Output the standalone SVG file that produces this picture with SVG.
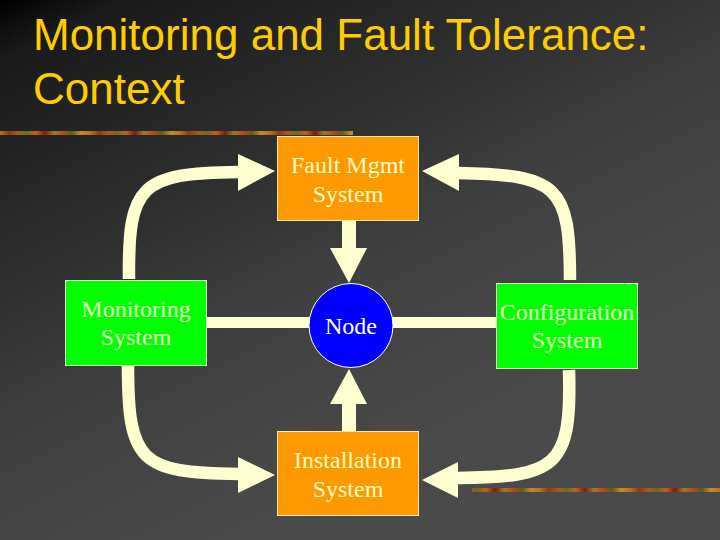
<svg xmlns="http://www.w3.org/2000/svg" width="720" height="540" viewBox="0 0 720 540">
<defs>
<linearGradient id="bg" gradientUnits="userSpaceOnUse" x1="0" y1="0" x2="300" y2="600">
<stop offset="0" stop-color="#000000"/>
<stop offset="0.08" stop-color="#1a1a1a"/>
<stop offset="0.4" stop-color="#303030"/>
<stop offset="0.6" stop-color="#404040"/>
<stop offset="0.9" stop-color="#4a4a4a"/>
</linearGradient>
<linearGradient id="stripe" gradientUnits="userSpaceOnUse" x1="0" y1="0" x2="90" y2="0" spreadMethod="repeat">
<stop offset="0" stop-color="#b8741c"/>
<stop offset="0.1" stop-color="#8c3a14"/>
<stop offset="0.2" stop-color="#a85a1e"/>
<stop offset="0.3" stop-color="#6e6a22"/>
<stop offset="0.4" stop-color="#c0621a"/>
<stop offset="0.5" stop-color="#7a1e10"/>
<stop offset="0.6" stop-color="#9a7a28"/>
<stop offset="0.7" stop-color="#b84a18"/>
<stop offset="0.8" stop-color="#5e5a1e"/>
<stop offset="0.9" stop-color="#c88a2a"/>
<stop offset="1" stop-color="#b8741c"/>
</linearGradient>
<style>
.title{font-family:"Liberation Sans",Arial,sans-serif;font-size:44px;fill:#FFCC00;}
.lbl{font-family:"Liberation Serif","Times New Roman",serif;font-size:24px;text-anchor:middle;}
.orange{fill:#FF9900;stroke:#FFE9A8;stroke-width:1;}
.green{fill:#00FF00;stroke:#DDFFC0;stroke-width:1;}
.otext{fill:#FFFFC4;}
.gtext{fill:#E4FFC4;}
.shaft{fill:none;stroke:#FFFFD0;stroke-width:12.5;}
.bar{fill:#FFFFD0;}
.head{fill:#FFFFD0;}
</style>
</defs>
<rect x="0" y="0" width="720" height="540" fill="url(#bg)"/>
<rect x="0" y="131" width="353" height="4" fill="url(#stripe)"/>
<rect x="472" y="488" width="248" height="4" fill="url(#stripe)"/>
<text class="title" x="33" y="50">Monitoring and Fault Tolerance:</text>
<text class="title" x="33" y="104">Context</text>
<g id="connectors">
<rect class="bar" x="207" y="317" width="103" height="11"/>
<rect class="bar" x="392" y="317" width="104" height="11"/>
<rect class="bar" x="342" y="221" width="14" height="28"/>
<polygon class="head" points="330,248 367,248 349,283"/>
<rect class="bar" x="342" y="403" width="14" height="28"/>
<polygon class="head" points="330,404 367,404 349,369"/>
<path class="shaft" d="M129,279 C128,185 140,173 239,172"/>
<polygon class="head" points="238,154 275,171 238,191"/>
<path class="shaft" d="M570,280 C570,185 558,175 458,173"/>
<polygon class="head" points="459,154 422,171 459,191"/>
<path class="shaft" d="M128,366 C128,462 140,473 239,474"/>
<polygon class="head" points="238,457 275,475 238,493"/>
<path class="shaft" d="M569,370 C572,468 556,477 457,478"/>
<polygon class="head" points="458,462 422,480 458,498"/>
</g>
<g id="fault-mgmt">
<rect class="orange" x="277.5" y="136.5" width="141" height="84"/>
<text class="lbl otext" x="348" y="173">Fault Mgmt</text>
<text class="lbl otext" x="348" y="202">System</text>
</g>
<g id="installation">
<rect class="orange" x="277.5" y="431.5" width="141" height="84"/>
<text class="lbl otext" x="348" y="468">Installation</text>
<text class="lbl otext" x="348" y="497">System</text>
</g>
<g id="monitoring">
<rect class="green" x="65.5" y="280.5" width="141" height="85"/>
<text class="lbl gtext" x="136" y="317">Monitoring</text>
<text class="lbl gtext" x="136" y="345">System</text>
</g>
<g id="configuration">
<rect class="green" x="496.5" y="283.5" width="141" height="85"/>
<text class="lbl gtext" x="567" y="320">Configuration</text>
<text class="lbl gtext" x="567" y="348">System</text>
</g>
<g id="node">
<circle cx="351" cy="325.5" r="42" fill="#0000FF" stroke="#FFFFFF" stroke-width="1"/>
<text class="lbl" x="351" y="334" fill="#FFFFFF">Node</text>
</g>
</svg>
